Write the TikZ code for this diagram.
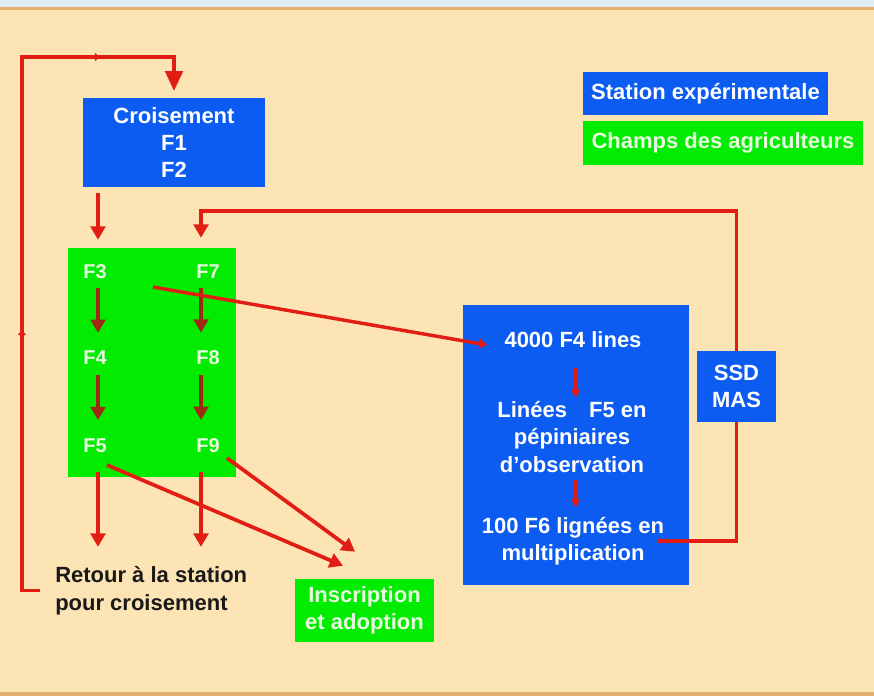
\documentclass[tikz,border=0pt]{standalone}
\usepackage{fontspec}
\setmainfont{Liberation Sans}
\usepackage{tikz}
\usetikzlibrary{positioning}
\usetikzlibrary{arrows.meta, decorations.markings}

\definecolor{peach}{RGB}{253,228,181}
\definecolor{paleblue}{RGB}{226,238,246}
\definecolor{rim}{RGB}{228,176,112}
\definecolor{boxblue}{RGB}{12,92,242}
\definecolor{boxgreen}{RGB}{2,236,2}
\definecolor{palegreen}{RGB}{230,250,222}
\definecolor{flowred}{RGB}{226,30,20}
\definecolor{darkred}{RGB}{158,42,18}

\tikzstyle{bluebox}=[fill=boxblue, text=white, align=center, inner sep=0pt]
\tikzstyle{greenbox}=[fill=boxgreen, text=palegreen, align=center, inner sep=0pt]
\tikzstyle{gen}=[text=palegreen, inner sep=0pt, font=\fontsize{15}{18}\selectfont\bfseries]
\tikzstyle{txt}=[text=white, align=center, inner sep=0pt]
\tikzstyle{flow}=[draw=flowred, line width=2.8pt, -{Triangle[length=10pt,width=11pt]}]
\tikzstyle{inflow}=[flow, draw=darkred]
\tikzstyle{dotflow}=[draw=flowred, line width=2.6pt, -{Triangle[length=6pt,width=7pt]}]
\tikzstyle{loopline}=[draw=flowred, line width=2.8pt, -{Triangle[length=15pt,width=13pt]},
    postaction={decorate}, decoration={markings,
    mark=at position 0.387 with {\arrow{Triangle[length=4pt,width=6pt]}},
    mark=at position 0.849 with {\arrow{Triangle[length=4pt,width=6pt]}}}]

\begin{document}
\begin{tikzpicture}[x=0.75pt, y=-0.75pt, font=\fontsize{16.5}{20.6}\selectfont\bfseries]
            % frame
            \fill[peach] (0,0) rectangle (874,696);
            \fill[paleblue] (0,0) rectangle (874,7);
            \fill[rim] (0,7) rectangle (874,10);
            \fill[rim] (0,692) rectangle (874,696);

            % legend
            \node[bluebox, minimum width=183.75pt, minimum height=32.25pt] (legstation) at (705.5,93.5) {Station expérimentale};
            \node[greenbox, minimum width=210pt, minimum height=33pt, below right=3.75pt and 0pt of legstation.south west] (legfield) {Champs des agriculteurs};

            % boxes
            \node[bluebox, minimum width=136.5pt, minimum height=66.75pt] (croise) at (174,142.5) {Croisement\\F1\\F2};
            \node[fill=boxgreen, minimum width=126pt, minimum height=171.75pt] (field) at (152,362.5) {};
            \node[fill=boxblue, minimum width=169.5pt, minimum height=210pt] (station) at (576,445) {};
            \node[bluebox, minimum width=59.25pt, minimum height=53.25pt] (ssd) at (736.5,386.5) {SSD\\MAS};
            \node[greenbox, minimum width=104.25pt, minimum height=47.25pt] (inscr) at (364.5,610.5) {Inscription\\et adoption};
            \node[anchor=west, align=left, inner sep=0pt, text=black!90] (retour) at (55,590.5) {Retour à la station\\pour croisement};

            % generations
            \node[gen] (F3) at (95,272) {F3};
            \node[gen] (F4) at (95,358) {F4};
            \node[gen] (F5) at (95,446) {F5};
            \node[gen] (F7) at (208,272) {F7};
            \node[gen] (F8) at (208,358) {F8};
            \node[gen] (F9) at (208,446) {F9};

            % station
            \node[txt] (l4000) at (573,340) {4000 F4 lines};
            \node[txt] (lF5) at (572,437) {Linées\hspace{1em}F5 en\\pépiniaires\\d'observation};
            \node[txt] (l100) at (573,541) {100 F6 lignées en\\multiplication};

            \coordinate (col1) at (98,0);
            \coordinate (col2) at (201,0);
            \coordinate (corner) at (22,57);
            \coordinate (bend) at (736.5,211);

            \draw[loopline, shorten <=11pt, shorten >=5pt] (retour.west) -| (corner) -| (croise.north);
            \draw[flow, shorten <=4.5pt, shorten >=6pt] (col1 |- croise.south) -- (col1 |- field.north);
            \draw[flow, shorten >=7.5pt] (ssd.north) -- (bend) -| (col2 |- field.north);
            \draw[flowred, line width=2.8pt] ([xshift=-5pt]l100.east) -| (ssd.south);

            \draw[inflow, shorten <=6.75pt, shorten >=13.5pt] (col1 |- F3.south) -- (col1 |- F4.north);
            \draw[inflow, shorten <=7.5pt, shorten >=14pt] (col1 |- F4.south) -- (col1 |- F5.north);
            \draw[inflow, shorten <=6.75pt, shorten >=13.5pt] (col2 |- F7.south) -- (col2 |- F8.north);
            \draw[inflow, shorten <=7.5pt, shorten >=14pt] (col2 |- F8.south) -- (col2 |- F9.north);

            \draw[flow, shorten <=14pt, shorten >=14.5pt] (col1 |- F5.south) -- (col1 |- retour.north);
            \draw[flow, shorten <=14pt, shorten >=14.5pt] (col2 |- F9.south) -- (col2 |- retour.north);
            \draw[flow] ([shift={(12,19)}]F5.center) -- ([shift={(-21.5,-13)}]inscr.north);
            \draw[flow] ([shift={(19,12)}]F9.center) -- ([shift={(-9.5,-27)}]inscr.north);
            \draw[dotflow] ([shift={(58,15)}]F3.center) -- ([shift={(-17,5)}]l4000.west);

            \draw[dotflow, shorten <=15pt, shorten >=2.6pt] ([xshift=2pt]l4000.south) -- ([xshift=2pt]l4000.south |- lF5.north);
            \draw[dotflow, shorten <=5pt, shorten >=7pt] ([xshift=2pt]l4000.south |- lF5.south) -- ([xshift=2pt]l4000.south |- l100.north);
        \end{tikzpicture}
\end{document}
